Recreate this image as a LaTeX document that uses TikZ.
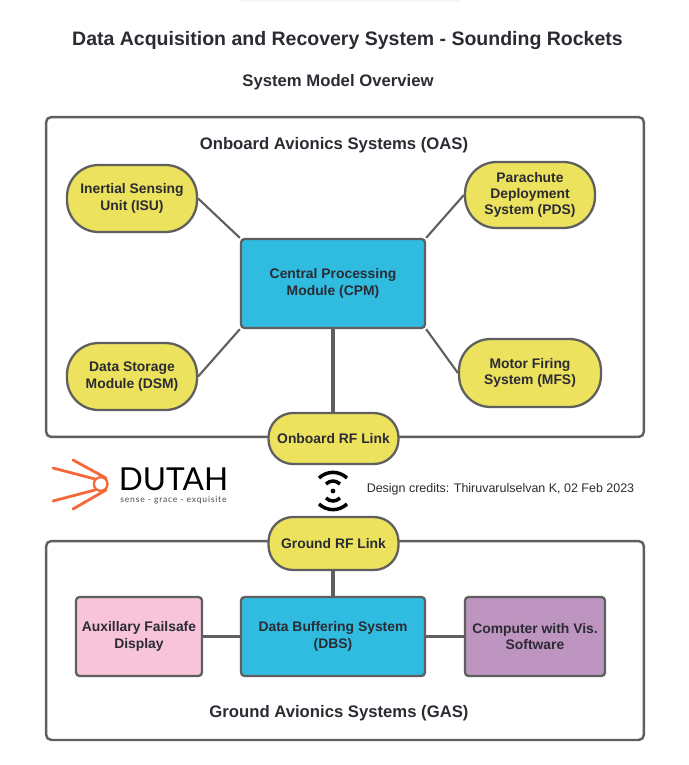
\documentclass[tikz,border=0pt]{standalone}
\usepackage{fontspec}
\setmainfont{Liberation Sans}
\newfontfamily\logofont{Lato}
\newfontfamily\logotagfont[LetterSpace=9]{Lato}
\definecolor{inktext}{HTML}{2B2B33}
\definecolor{edgegray}{HTML}{5F5F5F}
\definecolor{padyellow}{HTML}{ECE25E}
\definecolor{coreblue}{HTML}{2FBCE0}
\definecolor{failpink}{HTML}{F7C4DA}
\definecolor{compviolet}{HTML}{BE94C0}
\definecolor{logoorange}{HTML}{F4693A}
\tikzset{
	heading/.style={text=inktext, font=\bfseries\fontsize{#1}{#1}\selectfont, inner sep=0pt},
	groupbox/.style={draw=edgegray, line width=1.4pt, rounded corners=3pt, fill=white, minimum width=11.96cm, inner sep=0pt},
	block/.style={draw=edgegray, line width=1.3pt, text=inktext, align=center, inner sep=0pt,
		font=\bfseries\fontsize{7.9}{9.3}\selectfont},
	unit/.style={block, fill=padyellow, rounded corners=18pt},
	rflink/.style={block, fill=padyellow, rounded corners=14pt, minimum width=2.6cm},
	core/.style={block, fill=coreblue, rounded corners=2pt, minimum width=3.68cm},
	wire/.style={draw=edgegray, line width=1.2pt},
	bus/.style={draw=edgegray, line width=2pt}
}
\begin{document}
\begin{tikzpicture}[x=0.02cm, y=-0.02cm]
	\useasboundingbox (0, 0) rectangle (689, 765);
	\fill[black!3] (240, 0) rectangle (460, 2);
	\node[heading=11.1] (title) at (347.5, 40) {Data Acquisition and Recovery System - Sounding Rockets};
	\node[heading=9.5] (subtitle) at (338, 82) {System Model Overview};

	\node[groupbox, minimum height=6.4cm] (oas) at (345, 277) {};
	\node[groupbox, minimum height=3.98cm] (gas) at (345, 640.5) {};
	\node[heading=9.5] (oastitle) at (334, 145) {Onboard Avionics Systems (OAS)};
	\node[heading=9.5] (gastitle) at (339, 713) {Ground Avionics Systems (GAS)};

	\node[core, minimum height=1.78cm] (cpm) at (333, 283.5) {Central Processing\\Module (CPM)};
	\node[unit, minimum width=2.6cm, minimum height=1.34cm] (isu) at (132, 198.5) {Inertial Sensing\\Unit (ISU)};
	\node[unit, minimum width=2.6cm, minimum height=1.32cm] (pds) at (530, 195) {Parachute\\Deployment\\System (PDS)};
	\node[unit, minimum width=2.6cm, minimum height=1.34cm] (dsm) at (132, 376.5) {Data Storage\\Module (DSM)};
	\node[unit, minimum width=2.84cm, minimum height=1.36cm] (mfs) at (530, 373) {Motor Firing\\System (MFS)};
	\node[rflink, minimum height=1.02cm] (obrf) at (333.5, 438.5) {Onboard RF Link};
	\node[rflink, minimum height=1.06cm] (grf) at (333.5, 543.5) {Ground RF Link};

	\node[core, minimum height=1.58cm] (dbs) at (333, 636.5) {Data Buffering System\\(DBS)};
	\node[block, fill=failpink, rounded corners=2pt, minimum width=2.52cm, minimum height=1.58cm] (afd) at (139, 636.5) {Auxillary Failsafe\\Display};
	\node[block, fill=compviolet, rounded corners=2pt, minimum width=2.8cm, minimum height=1.58cm] (cvs) at (535, 636.5) {Computer with Vis.\\Software};

	\draw[wire] (isu.east) -- (cpm.north west);
	\draw[wire] (pds.west) -- (cpm.north east);
	\draw[wire] (dsm.east) -- (cpm.south west);
	\draw[wire] (mfs.west) -- (cpm.south east);
	\draw[bus] (cpm.south) -- (cpm.south |- obrf.north);
	\draw[bus] (grf.south -| dbs.north) -- (dbs.north);
	\draw[bus] (afd.east) -- (dbs.west);
	\draw[bus] (dbs.east) -- (cvs.west);

	% signal icon between the two links
	\fill[black] (333, 491) circle (2.4);
	\foreach \s in {1, -1} {
		\draw[black, line width=2pt] (319, 491 - \s*13) .. controls (327, 491 - \s*20.5) and (339, 491 - \s*20.5) .. (347, 491 - \s*13);
		\draw[black, line width=2pt] (326, 491 - \s*7) .. controls (330, 491 - \s*11) and (336, 491 - \s*11) .. (340, 491 - \s*7);
	}

	% logo
	\draw[logoorange, line width=1.3pt] (100.7, 484) circle (6.8);
	\draw[logoorange, line width=1.6pt, line cap=round] (73, 460) -- (106, 478);
	\draw[logoorange, line width=1.6pt, line cap=round] (53, 468) -- (95, 479);
	\draw[logoorange, line width=1.6pt, line cap=round] (53, 501) -- (95, 490);
	\draw[logoorange, line width=1.6pt, line cap=round] (73, 509) -- (106, 490);
	\node[inner sep=0pt, text=black, font=\logofont\fontsize{18}{18}\selectfont] (logoname) at (173.5, 479) {DUTAH};
	\node[inner sep=0pt, text=black!70, font=\logotagfont\fontsize{4.9}{5}\selectfont] (logotag) at (173.5, 500) {sense - grace - exquisite};

	\node[inner sep=0pt, text=inktext, font=\fontsize{7.1}{9}\selectfont] (credits) at (500.5, 489) {Design credits: Thiruvarulselvan K, 02 Feb 2023};
\end{tikzpicture}
\end{document}
